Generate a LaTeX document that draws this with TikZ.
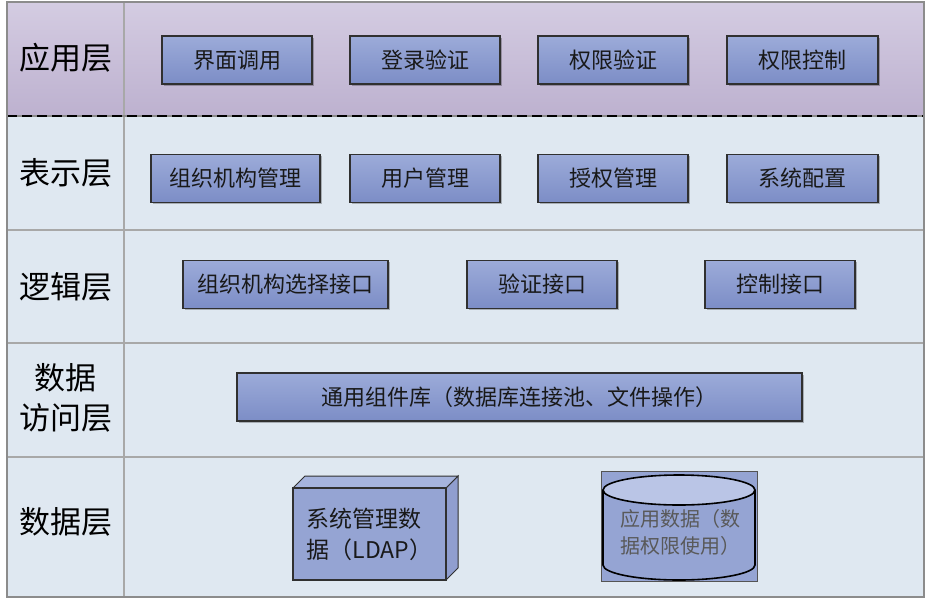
\documentclass[tikz,border=0pt]{standalone}
\usepackage{fontspec}
\setmainfont{Liberation Sans}
\newfontfamily\cjk{Noto Sans CJK SC}
\usetikzlibrary{shadows}
\definecolor{frameg}{HTML}{8C8C8C}
\definecolor{rowline}{HTML}{A8A8A8}
\definecolor{lav1}{HTML}{D4CCE2}
\definecolor{lav2}{HTML}{BDB1CF}
\definecolor{pale}{HTML}{DFE8F1}
\definecolor{box1}{HTML}{9CABD9}
\definecolor{box2}{HTML}{7C8DC6}
\definecolor{boxline}{HTML}{303030}
\definecolor{cylbody}{HTML}{95A4D3}
\definecolor{cyltop}{HTML}{BAC5E6}
\tikzset{
  box/.style={draw=boxline, line width=1.1pt, top color=box1, bottom color=box2,
    drop shadow={shadow xshift=1.5pt, shadow yshift=-1.5pt, fill=black, opacity=0.25},
    minimum height=48pt, inner sep=0pt, font=\cjk\fontsize{22}{26}\selectfont, text=black!90},
  layer/.style={font=\cjk\fontsize{31}{37}\selectfont, text=black, align=center},
  rowsep/.style={draw=rowline, line width=1.4pt}
}
\begin{document}
\begin{tikzpicture}[x=1pt,y=-1pt]
\useasboundingbox (0,0) rectangle (928,600);
% backgrounds
\fill[pale] (7,116) rectangle (924,597);
\shade[top color=lav1, bottom color=lav2] (7,2) rectangle (924,116);
% row separators
\draw[rowsep] (7,230) -- (924,230);
\draw[rowsep] (7,343) -- (924,343);
\draw[rowsep] (7,457) -- (924,457);
\draw[rowsep] (124,2) -- (124,597);
% dashed separator
\draw[draw=frameg, line width=2.5pt] (7,116) -- (924,116);
\draw[draw=black, line width=2.5pt, dash pattern=on 10pt off 5pt] (7,116) -- (924,116);
% outer frame
\draw[draw=frameg, line width=1.6pt] (7,2) rectangle (924,597);
% layer titles
\node[layer] (L1) at (66,58) {应用层};
\node[layer] (L2) at (66,173) {表示层};
\node[layer] (L3) at (66,287) {逻辑层};
\node[layer, align=center, font=\cjk\fontsize{31}{40}\selectfont] (L4) at (66,398) {数据\\访问层};
\node[layer] (L5) at (66,522) {数据层};
% row 1
\node[box, minimum width=150pt] (a1) at (237,60) {界面调用};
\node[box, minimum width=150pt] (a2) at (425,60) {登录验证};
\node[box, minimum width=150pt] (a3) at (613,60) {权限验证};
\node[box, minimum width=151pt] (a4) at (802.5,60) {权限控制};
% row 2
\node[box, minimum width=169pt] (b1) at (235.5,178.5) {组织机构管理};
\node[box, minimum width=150pt] (b2) at (425,178.5) {用户管理};
\node[box, minimum width=150pt] (b3) at (613,178.5) {授权管理};
\node[box, minimum width=151pt] (b4) at (802.5,178.5) {系统配置};
% row 3
\node[box, minimum width=205pt] (c1) at (285.5,284.5) {组织机构选择接口};
\node[box, minimum width=150pt] (c2) at (542,284.5) {验证接口};
\node[box, minimum width=150pt] (c3) at (780,284.5) {控制接口};
% row 4
\node[box, minimum width=565pt] (d1) at (519.5,397) {通用组件库（数据库连接池、文件操作）};
% cube
\fill[box2!85!white, draw=boxline, line width=1pt] (446,488) -- (458,476) -- (458,568) -- (446,580) -- cycle;
\fill[box1!90!white, draw=boxline, line width=1pt] (293,488) -- (305,476) -- (458,476) -- (446,488) -- cycle;
\node[draw=boxline, line width=1.1pt, fill=cylbody, minimum width=153pt, minimum height=92pt,
  inner sep=0pt, align=left, text=black!90, font=\cjk\fontsize{23}{31}\selectfont] (e1) at (369.5,534)
  {系统管理数\\据（LDAP）};
% cylinder
\node[draw=frameg!60!black, line width=1pt, fill=cylbody, minimum width=156pt, minimum height=110pt, inner sep=0pt] (e2) at (679,526) {};
\fill[cylbody, draw=black, line width=1.6pt] (603,490) -- (603,565) arc[start angle=180, end angle=360, x radius=76pt, y radius=15pt] -- (755,490);
\draw[black, line width=1.6pt, fill=cyltop] (679,490) ellipse [x radius=76pt, y radius=15pt];
\node[align=left, text=black!65, font=\cjk\fontsize{20}{27}\selectfont] (e2t) at (680,532) {应用数据（数\\据权限使用）};
\end{tikzpicture}
\end{document}
